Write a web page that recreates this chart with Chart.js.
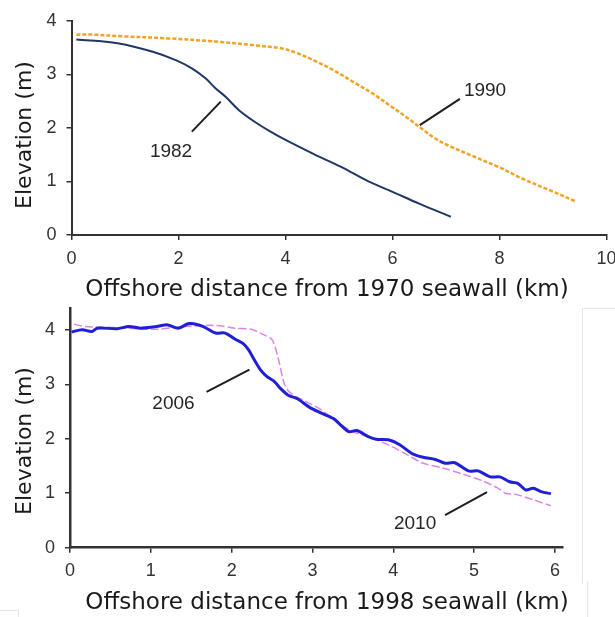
<!DOCTYPE html>
<html>
<head>
<meta charset="utf-8">
<script src="https://cdn.jsdelivr.net/npm/chart.js@4.4.1/dist/chart.umd.min.js"></script>
<style>
  html, body { margin: 0; padding: 0; background: #fff; }
  body { width: 615px; height: 617px; position: relative; overflow: hidden; }
  canvas { position: absolute; left: 0; }
  #c1 { top: 0; }
  #c2 { top: 300px; }
  .frame { position: absolute; border-color: #e6e6e6; border-style: solid; border-width: 0; }
</style>
</head>
<body>
<div class="frame" style="left:582px; top:308px; width:40px; height:274px; border-left-width:1px; border-top-width:1px;"></div>
<div class="frame" style="left:587px; top:582px; width:40px; height:40px; border-left-width:1px;"></div>
<div class="frame" style="left:-2px; top:610px; width:20px; height:20px; border-right-width:1px; border-top-width:1px;"></div>
<canvas id="c1" width="615" height="300"></canvas>
<canvas id="c2" width="615" height="317"></canvas>
<script>
// ---- Top chart data (offshore distance from 1970 seawall, km / elevation, m)
const km1982 = [0.09,0.86,1.52,1.96,2.25,2.51,2.69,2.88,3.13,3.43,3.72,4.01,4.53,5.04,5.55,5.99,6.51,7.09];
const elev1982 = [3.65,3.58,3.42,3.26,3.11,2.92,2.74,2.58,2.33,2.11,1.93,1.77,1.51,1.27,1.00,0.81,0.58,0.34];
const km1990 = [0.09,0.42,0.93,1.81,2.69,3.43,3.94,4.23,4.53,4.89,5.26,5.63,5.99,6.29,6.54,6.80,7.09,7.46,7.98,8.41,8.93,9.44];
const elev1990 = [3.74,3.74,3.71,3.67,3.61,3.54,3.48,3.39,3.26,3.08,2.86,2.64,2.39,2.18,1.99,1.80,1.65,1.49,1.27,1.06,0.84,0.62];

// ---- Bottom chart data (offshore distance from 1998 seawall, km / elevation, m)
const km2006 = [0.02,0.15,0.27,0.34,0.58,0.73,0.87,1.07,1.21,1.34,1.46,1.53,1.65,1.80,1.92,2.04,2.14,2.21,2.28,2.36,2.43,2.53,2.60,2.70,2.82,2.96,3.11,3.26,3.35,3.45,3.55,3.69,3.79,3.94,4.08,4.23,4.37,4.52,4.64,4.76,4.93,5.05,5.20,5.32,5.44,5.54,5.64,5.73,5.83,5.95];
const elev2006 = [3.96,4.00,3.97,4.03,4.02,4.06,4.03,4.06,4.09,4.03,4.11,4.11,4.06,3.94,3.94,3.83,3.75,3.63,3.45,3.26,3.15,3.05,2.93,2.80,2.73,2.58,2.47,2.37,2.25,2.13,2.15,2.04,1.99,1.98,1.89,1.73,1.66,1.62,1.55,1.56,1.41,1.41,1.30,1.30,1.21,1.18,1.06,1.09,1.03,0.99];
const km2010 = [0.05,0.19,0.58,1.07,1.41,1.80,2.04,2.24,2.38,2.50,2.58,2.65,2.72,2.92,3.11,3.30,3.50,3.74,3.98,4.18,4.37,4.62,4.86,5.10,5.30,5.39,5.54,5.73,5.95];
const elev2010 = [4.10,4.06,4.04,4.01,4.06,4.08,4.03,4.01,3.92,3.82,3.45,3.02,2.85,2.68,2.53,2.31,2.13,2.01,1.86,1.70,1.55,1.46,1.35,1.23,1.09,1.00,0.97,0.88,0.77];

// ---- Axis ticks
const xTicksTop = [0,2,4,6,8,10];
const yTicksTop = [0,1,2,3,4];
const xTicksBottom = [0,1,2,3,4,5,6];
const yTicksBottom = [0,1,2,3,4];

// ---- Texts
const yTitle = 'Elevation (m)';
const xTitleTop = 'Offshore distance from 1970 seawall (km)';
const xTitleBottom = 'Offshore distance from 1998 seawall (km)';

// ---- Annotation labels (in data coordinates)
const notesTop = [
  { text: '1982', x: 1.86, y: 1.56, x1: 2.25, y1: 1.93, x2: 2.79, y2: 2.49 },
  { text: '1990', x: 7.73, y: 2.70, x1: 7.26, y1: 2.54, x2: 6.51, y2: 2.05 }
];
const notesBottom = [
  { text: '2006', x: 1.28, y: 2.64, x1: 1.69, y1: 2.86, x2: 2.22, y2: 3.27 },
  { text: '2010', x: 4.27, y: 0.445, x1: 4.64, y1: 0.60, x2: 5.16, y2: 1.02 }
];

const pts = (xs, ys) => xs.map((x, i) => ({ x: x, y: ys[i] }));

const tickFont = { family: '"Liberation Sans", Arial, sans-serif', size: 18 };
const axisColor = '#333333';

function decorPlugin(cfg) {
  return {
    id: 'decor',
    afterDraw(chart) {
      const ctx = chart.ctx, xs = chart.scales.x, ys = chart.scales.y;
      ctx.save();
      // annotations
      ctx.strokeStyle = '#1e1e1e';
      ctx.lineWidth = 2;
      ctx.fillStyle = '#262626';
      ctx.font = '19px "Liberation Sans", Arial, sans-serif';
      ctx.textAlign = 'center';
      ctx.textBaseline = 'middle';
      cfg.notes.forEach(n => {
        ctx.beginPath();
        ctx.moveTo(xs.getPixelForValue(n.x1), ys.getPixelForValue(n.y1));
        ctx.lineTo(xs.getPixelForValue(n.x2), ys.getPixelForValue(n.y2));
        ctx.stroke();
        ctx.fillText(n.text, xs.getPixelForValue(n.x), ys.getPixelForValue(n.y));
      });
      // axis titles
      ctx.fillStyle = '#1a1a1a';
      ctx.font = '23px "DejaVu Sans", Verdana, sans-serif';
      ctx.fillText(cfg.xTitle, cfg.xTitlePos[0], cfg.xTitlePos[1]);
      ctx.translate(cfg.yTitlePos[0], cfg.yTitlePos[1]);
      ctx.rotate(-Math.PI / 2);
      ctx.font = '22px "DejaVu Sans", Verdana, sans-serif';
      ctx.fillText(yTitle, 0, 0);
      ctx.restore();
    }
  };
}

function makeChart(id, opts) {
  return new Chart(document.getElementById(id), {
    type: 'line',
    data: { datasets: opts.datasets },
    options: {
      responsive: false,
      animation: false,
      devicePixelRatio: 1,
      layout: { padding: opts.padding },
      plugins: { legend: { display: false }, tooltip: { enabled: false } },
      elements: { point: { radius: 0 } },
      scales: {
        x: {
          type: 'linear',
          min: opts.xMin, max: opts.xMax,
          afterBuildTicks: s => { s.ticks = opts.xTicks.map(v => ({ value: v })); },
          afterFit: s => { s.height = opts.xHeight; s.paddingLeft = 0; s.paddingRight = 0; },
          border: { color: axisColor, width: opts.axisWidth },
          grid: { drawOnChartArea: false, drawTicks: true, tickLength: 5, color: axisColor, lineWidth: 1.5 },
          ticks: { font: tickFont, color: '#333', padding: 8, maxRotation: 0, autoSkip: false },
          title: { display: false }
        },
        y: {
          type: 'linear',
          min: opts.yMin, max: opts.yMax,
          afterBuildTicks: s => { s.ticks = opts.yTicks.map(v => ({ value: v })); },
          afterFit: s => { s.width = opts.yWidth; s.paddingTop = 0; s.paddingBottom = 0; },
          border: { color: axisColor, width: opts.axisWidth },
          grid: { drawOnChartArea: false, drawTicks: true, tickLength: 5, color: axisColor, lineWidth: 1.5 },
          ticks: { font: tickFont, color: '#333', padding: 10, autoSkip: false },
          title: { display: false }
        }
      }
    },
    plugins: [decorPlugin(opts.decor)]
  });
}

makeChart('c1', {
  datasets: [
    { label: '1982', data: pts(km1982, elev1982), borderColor: '#203766', borderWidth: 2, tension: 0.35, order: 1 },
    { label: '1990', data: pts(km1990, elev1990), borderColor: '#f2a322', borderWidth: 2.5, borderDash: [4, 2], tension: 0.35, order: 2 }
  ],
  padding: { top: 20.7, right: 8.5, bottom: 0, left: 0 },
  xMin: 0, xMax: 10, yMin: 0, yMax: 4,
  xTicks: xTicksTop, yTicks: yTicksTop,
  xHeight: 65, yWidth: 71.5, axisWidth: 2,
  decor: { notes: notesTop, xTitle: xTitleTop, xTitlePos: [327, 290], yTitlePos: [25, 135] }
});

makeChart('c2', {
  datasets: [
    { label: '2006', data: pts(km2006, elev2006), borderColor: '#1f1fd6', borderWidth: 3, tension: 0.3, order: 1 },
    { label: '2010', data: pts(km2010, elev2010), borderColor: '#dd85e3', borderWidth: 1.5, borderDash: [8, 3], tension: 0.3, order: 2 }
  ],
  padding: { top: 8, right: 52, bottom: 0, left: 0 },
  xMin: 0, xMax: 6.1, yMin: 0, yMax: 4.4,
  xTicks: xTicksBottom, yTicks: yTicksBottom,
  xHeight: 69.3, yWidth: 70, axisWidth: 2.5,
  decor: { notes: notesBottom, xTitle: xTitleBottom, xTitlePos: [327, 303], yTitlePos: [25, 141] }
});
</script>
</body>
</html>
